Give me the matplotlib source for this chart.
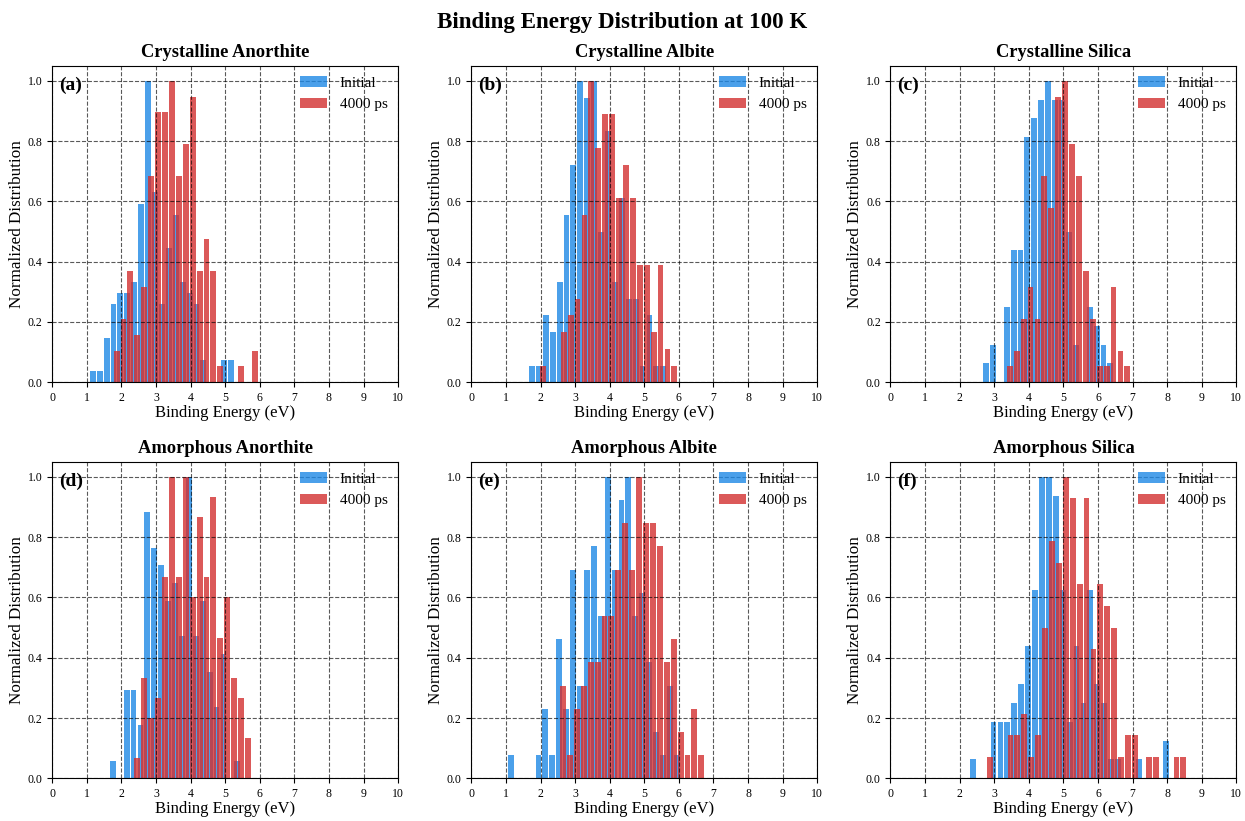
import numpy as np
import matplotlib
matplotlib.use("Agg")
import matplotlib.pyplot as plt

plt.rcParams['font.family'] = 'serif'
plt.rcParams['font.serif'] = ['Liberation Serif', 'DejaVu Serif']

# bin width of the histograms (eV)
bin_w = 0.2

# counts per bin (normalised by the max when drawn); first bin centre in eV
cry_anorthite_init_e0 = 1.17
cry_anorthite_init = [1, 1, 4, 7, 8, 8, 9, 16, 27, 17, 7, 12, 15, 9, 8, 7, 2, 0, 0, 2, 2]
cry_anorthite_fin_e0 = 1.86
cry_anorthite_fin = [2, 4, 7, 3, 6, 13, 17, 17, 19, 13, 15, 18, 7, 9, 7, 1, 0, 0, 1, 0, 2]

cry_albite_init_e0 = 1.75
cry_albite_init = [1, 1, 4, 3, 6, 10, 13, 18, 17, 18, 9, 15, 6, 11, 5, 5, 1, 4, 1, 1]
cry_albite_fin_e0 = 2.07
cry_albite_fin = [1, 0, 0, 3, 4, 5, 10, 18, 14, 16, 16, 11, 13, 11, 7, 7, 3, 7, 2, 1]

cry_silica_init_e0 = 2.76
cry_silica_init = [1, 2, 0, 4, 7, 7, 13, 14, 15, 16, 15, 15, 8, 2, 0, 4, 3, 2, 1]
cry_silica_fin_e0 = 3.45
cry_silica_fin = [1, 2, 4, 6, 4, 13, 11, 18, 19, 15, 13, 7, 4, 1, 1, 6, 2, 1]

amo_anorthite_init_e0 = 1.75
amo_anorthite_init = [1, 0, 5, 5, 3, 15, 13, 12, 10, 11, 8, 17, 8, 10, 6, 4, 7, 0, 1]
amo_anorthite_fin_e0 = 2.46
amo_anorthite_fin = [1, 5, 3, 4, 10, 15, 10, 15, 9, 13, 10, 14, 7, 9, 5, 4, 2]

amo_albite_init_e0 = 1.14
amo_albite_init = [1, 0, 0, 0, 1, 3, 1, 6, 3, 9, 4, 9, 10, 7, 13, 9, 12, 13, 7, 8, 5, 2, 1, 4, 1]
amo_albite_fin_e0 = 2.65
amo_albite_fin = [4, 1, 3, 4, 5, 5, 7, 7, 9, 11, 9, 13, 11, 11, 10, 5, 6, 2, 1, 3, 1]

amo_silica_init_e0 = 2.38
amo_silica_init = [1, 0, 0, 3, 3, 3, 4, 5, 7, 10, 16, 16, 15, 10, 3, 7, 4, 10, 5, 4, 1, 1,
                   0, 0, 1, 0, 0, 0, 2]
amo_silica_fin_e0 = 2.87
amo_silica_fin = [1, 0, 0, 2, 2, 3, 1, 2, 7, 11, 10, 14, 13, 9, 13, 6, 9, 8, 7, 1, 2, 2,
                  0, 1, 1, 0, 0, 1, 1]

titles = ['Crystalline Anorthite', 'Crystalline Albite', 'Crystalline Silica',
          'Amorphous Anorthite', 'Amorphous Albite', 'Amorphous Silica']
letters = ['(a)', '(b)', '(c)', '(d)', '(e)', '(f)']

panels = [
    (cry_anorthite_init_e0, cry_anorthite_init, cry_anorthite_fin_e0, cry_anorthite_fin),
    (cry_albite_init_e0, cry_albite_init, cry_albite_fin_e0, cry_albite_fin),
    (cry_silica_init_e0, cry_silica_init, cry_silica_fin_e0, cry_silica_fin),
    (amo_anorthite_init_e0, amo_anorthite_init, amo_anorthite_fin_e0, amo_anorthite_fin),
    (amo_albite_init_e0, amo_albite_init, amo_albite_fin_e0, amo_albite_fin),
    (amo_silica_init_e0, amo_silica_init, amo_silica_fin_e0, amo_silica_fin),
]

blue = '#1E88E5'
red = '#D32F2F'

fig, axes = plt.subplots(2, 3, figsize=(12.45, 8.21), dpi=100)
fig.subplots_adjust(left=0.042, right=0.993, bottom=0.052, top=0.92,
                    wspace=0.212, hspace=0.251)

for ax, (e0i, ci, e0f, cf), title, letter in zip(axes.flat, panels, titles, letters):
    ci = np.array(ci, dtype=float)
    cf = np.array(cf, dtype=float)
    xi = e0i + bin_w * np.arange(len(ci))
    xf = e0f + bin_w * np.arange(len(cf))
    ax.bar(xi, ci / ci.max(), width=0.85 * bin_w, color=blue, alpha=0.8, label='Initial')
    ax.bar(xf, cf / cf.max(), width=0.85 * bin_w, color=red, alpha=0.8, label='4000 ps')

    ax.set_xlim(0, 10)
    ax.set_ylim(0, 1.05)
    ax.set_xticks(range(11))
    ax.set_yticks(np.arange(0, 1.01, 0.2))
    ax.tick_params(labelsize=8.5)
    ax.grid(True, linestyle='--', color='black', alpha=0.65, linewidth=0.8)
    ax.set_title(title, fontsize=13.3, fontweight='bold', pad=6)
    ax.set_xlabel('Binding Energy (eV)', fontsize=12, labelpad=1)
    ax.set_ylabel('Normalized Distribution', fontsize=12.3, labelpad=2)
    ax.text(0.02, 0.965, letter, transform=ax.transAxes, fontsize=14,
            fontweight='bold', va='top', ha='left')
    ax.legend(loc='upper right', frameon=False, fontsize=11,
              borderaxespad=0.3, handlelength=1.8)

fig.suptitle('Binding Energy Distribution at 100 K', fontsize=16.6, fontweight='bold', y=0.985)

fig.savefig('out.png', dpi=100)
